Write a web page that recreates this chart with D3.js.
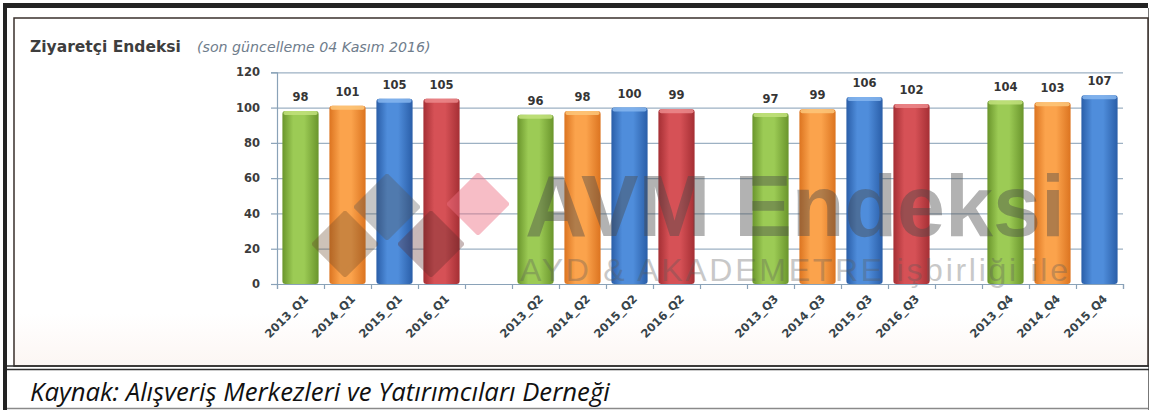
<!DOCTYPE html>
<html><head><meta charset="utf-8">
<script src="https://cdn.jsdelivr.net/npm/d3@7"></script>
<style>html,body{margin:0;padding:0;background:#fff;}svg{display:block;}</style>
</head><body>
<script>
// ---- data ----
const categories = ["2013_Q1","2014_Q1","2015_Q1","2016_Q1","",
                    "2013_Q2","2014_Q2","2015_Q2","2016_Q2","",
                    "2013_Q3","2014_Q3","2015_Q3","2016_Q3","",
                    "2013_Q4","2014_Q4","2015_Q4"];
const values = [98,101,105,105,null, 96,98,100,99,null, 97,99,106,102,null, 104,103,107];
const yTicks = [0,20,40,60,80,100,120];
const seriesYears = ["2013","2014","2015","2016"];
const titleText = "Ziyaretçi Endeksi";
const subtitleText = "(son güncelleme 04 Kasım 2016)";
const sourceText = "Kaynak: Alışveriş Merkezleri ve Yatırımcıları Derneği";
const wmMain = "AVM Endeksi";
const wmSub = "AYD & AKADEMETRE işbirliği ile";

const W = 1151, H = 410;
const svg = d3.select("body").append("svg").attr("width", W).attr("height", H);
const defs = svg.append("defs");

const pal = {
  "2013": {dark:"#6a952c", mid:"#9ccb55", top:"#c2e27c"},
  "2014": {dark:"#dc7420", mid:"#fba34c", top:"#fdc77a"},
  "2015": {dark:"#2a5ea8", mid:"#4f8ddb", top:"#86b6ee"},
  "2016": {dark:"#a52f34", mid:"#d65156", top:"#ec8a8c"}
};
seriesYears.forEach(y => {
  const g = defs.append("linearGradient").attr("id","g"+y).attr("x1","0").attr("x2","1").attr("y1","0").attr("y2","0");
  g.append("stop").attr("offset","0%").attr("stop-color",pal[y].dark);
  g.append("stop").attr("offset","30%").attr("stop-color",pal[y].mid);
  g.append("stop").attr("offset","60%").attr("stop-color",pal[y].mid);
  g.append("stop").attr("offset","100%").attr("stop-color",pal[y].dark);
});
const bg = defs.append("linearGradient").attr("id","bgGrad").attr("x1","0").attr("x2","0").attr("y1","0").attr("y2","1");
bg.append("stop").attr("offset","0%").attr("stop-color","#ffffff");
bg.append("stop").attr("offset","85%").attr("stop-color","#ffffff");
bg.append("stop").attr("offset","100%").attr("stop-color","#fcf6f3");

// ---- frame ----
svg.append("rect").attr("x",14).attr("y",18).attr("width",1134).attr("height",348).attr("fill","url(#bgGrad)");
svg.append("rect").attr("x",3).attr("y",3).attr("width",1145).attr("height",5).attr("fill","#232323");
svg.append("rect").attr("x",3).attr("y",3).attr("width",4).attr("height",407).attr("fill","#232323");
svg.append("line").attr("x1",7).attr("x2",1149).attr("y1",408.5).attr("y2",408.5).attr("stroke","#8a8a8a").attr("stroke-width",1.5);
svg.append("line").attr("x1",1148.5).attr("x2",1148.5).attr("y1",8).attr("y2",410).attr("stroke","#777").attr("stroke-width",1);
svg.append("rect").attr("x",14).attr("y",18).attr("width",1134).attr("height",348)
   .attr("fill","none").attr("stroke","#3a302c").attr("stroke-width",1.5);
svg.append("line").attr("x1",7).attr("x2",1149).attr("y1",366).attr("y2",366).attr("stroke","#2e2e2e").attr("stroke-width",1.6);
svg.append("line").attr("x1",7).attr("x2",1149).attr("y1",369.5).attr("y2",369.5).attr("stroke","#2e2e2e").attr("stroke-width",1.6);

// ---- titles ----
function fitText(sel, base, target) {
  const w = sel.node().getComputedTextLength();
  sel.attr("font-size", base * target / w);
}
const t1 = svg.append("text").attr("x",30).attr("y",52).text(titleText)
   .attr("font-family","DejaVu Sans").attr("font-weight","bold").attr("font-size",13).attr("fill","#3e3e3e");
fitText(t1, 13, 151);
const t2 = svg.append("text").attr("x",197).attr("y",52).text(subtitleText)
   .attr("font-family","DejaVu Sans").attr("font-style","italic").attr("font-size",12.5).attr("fill","#6f7d8c");
fitText(t2, 12.5, 234);

const src = svg.append("text").attr("x",30).attr("y",401).text(sourceText)
   .attr("font-family","Open Sans").attr("font-style","italic").attr("font-size",20).attr("fill","#111");
fitText(src, 20, 580);

// ---- scales ----
const x0 = 277, x1 = 1123, yBase = 284, yTop = 72.3;
const n = values.length;
const idx = d3.range(n);
const xBand = d3.scaleBand().domain(idx).range([x0, x1]).paddingInner(0.23).paddingOuter(0.115);
const xLin = d3.scaleLinear().domain([0, n]).range([x0, x1]);
const y = d3.scaleLinear().domain([0, 120]).range([yBase, yTop]);

// grid
svg.append("g").selectAll("line").data(yTicks.filter(t => t > 0)).join("line")
   .attr("x1", x0).attr("x2", x1).attr("y1", d => y(d)+0.5).attr("y2", d => y(d)+0.5)
   .attr("stroke","#9db1c3").attr("stroke-width",1.2);

// y axis
const yAxis = svg.append("g").attr("transform",`translate(${x0},0)`)
   .call(d3.axisLeft(y).tickValues(yTicks).tickSize(6).tickPadding(11));
yAxis.select(".domain").attr("stroke","#8aa2b8").attr("stroke-width",1.2);
yAxis.selectAll(".tick line").attr("stroke","#8aa2b8").attr("stroke-width",1.2);
yAxis.selectAll(".tick text").attr("font-family","DejaVu Sans").attr("font-weight","bold")
   .attr("font-size",11.5).attr("fill","#3c3c3c");

// bars
const yearOf = i => categories[i] ? categories[i].slice(0,4) : null;
const barIdx = idx.filter(i => values[i] != null);
const bars = svg.append("g");
bars.selectAll("rect.bar").data(barIdx).join("rect").attr("class","bar")
   .attr("x", i => xBand(i)).attr("width", xBand.bandwidth())
   .attr("y", i => y(values[i])).attr("height", i => yBase - y(values[i]))
   .attr("rx", 3).attr("fill", i => `url(#g${yearOf(i)})`);
bars.selectAll("rect.cap").data(barIdx).join("rect").attr("class","cap")
   .attr("x", i => xBand(i)+1).attr("width", xBand.bandwidth()-2)
   .attr("y", i => y(values[i])).attr("height", 4)
   .attr("rx", 2).attr("fill", i => pal[yearOf(i)].top).attr("opacity",0.85);

// watermark
const wm = svg.append("g").attr("pointer-events","none");
const diamond = (cx, cy, r) => `M${cx},${cy-r} L${cx+r},${cy} L${cx},${cy+r} L${cx-r},${cy} Z`;
wm.append("path").attr("d", diamond(387, 207, 30)).attr("fill","#555").attr("opacity",0.33)
   .attr("stroke","#555").attr("stroke-width",6).attr("stroke-linejoin","round");
wm.append("path").attr("d", diamond(345, 244, 30)).attr("fill","#6b4a2a").attr("opacity",0.33)
   .attr("stroke","#6b4a2a").attr("stroke-width",6).attr("stroke-linejoin","round");
wm.append("path").attr("d", diamond(431, 244, 30)).attr("fill","#5a2a2a").attr("opacity",0.33)
   .attr("stroke","#5a2a2a").attr("stroke-width",6).attr("stroke-linejoin","round");
wm.append("path").attr("d", diamond(478, 204, 28)).attr("fill","#ee6f82").attr("opacity",0.45)
   .attr("stroke","#ee6f82").attr("stroke-width",6).attr("stroke-linejoin","round");
wm.append("text").attr("x",525).attr("y",236).text(wmMain)
   .attr("font-family","Liberation Sans").attr("font-weight","bold").attr("font-size",88)
   .attr("textLength",540).attr("lengthAdjust","spacingAndGlyphs")
   .attr("fill","#4a4a4a").attr("opacity",0.42);
wm.append("text").attr("x",520).attr("y",281).text(wmSub)
   .attr("font-family","Liberation Sans").attr("font-size",32)
   .attr("textLength",548).attr("lengthAdjust","spacing")
   .attr("fill","#5a5a5a").attr("opacity",0.33);

// x axis
const xAxis = svg.append("g").attr("transform",`translate(0,${yBase})`)
   .call(d3.axisBottom(xLin).tickValues(d3.range(n+1)).tickSize(5).tickFormat(""));
xAxis.select(".domain").attr("stroke","#8aa2b8").attr("stroke-width",1.2);
xAxis.selectAll(".tick line").attr("stroke","#8aa2b8").attr("stroke-width",1.2);

// x labels
svg.append("g").selectAll("text").data(idx.filter(i => categories[i])).join("text")
   .attr("transform", i => `translate(${xBand(i)+xBand.bandwidth()/2+6},${yBase+13}) rotate(-45)`)
   .attr("text-anchor","end").attr("dominant-baseline","middle")
   .attr("font-family","DejaVu Sans").attr("font-weight","bold").attr("font-size",11.5)
   .attr("fill","#37444a").text(i => categories[i]);

// value labels
svg.append("g").selectAll("text").data(barIdx).join("text")
   .attr("x", i => xBand(i)+xBand.bandwidth()/2).attr("y", i => y(values[i]) - 10)
   .attr("text-anchor","middle")
   .attr("font-family","DejaVu Sans").attr("font-weight","bold").attr("font-size",11.5)
   .attr("fill","#353535").text(i => values[i]);
</script>
</body></html>
